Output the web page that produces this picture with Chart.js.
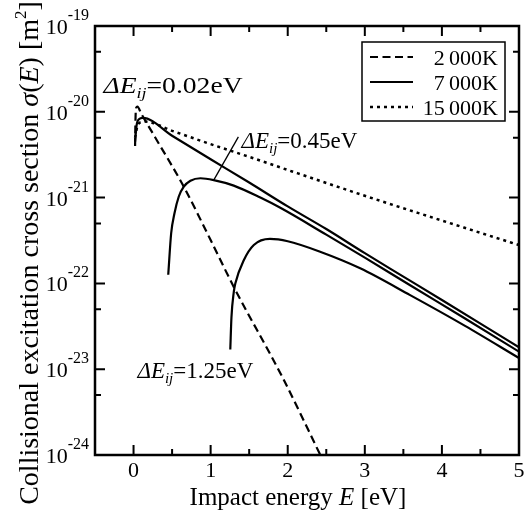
<!DOCTYPE html>
<html><head><meta charset="utf-8">
<script src="https://cdn.jsdelivr.net/npm/chart.js@4/dist/chart.umd.min.js"></script>
<style>html,body{margin:0;padding:0;background:#fff;}</style>
</head><body>
<canvas id="c" width="528" height="513"></canvas>
<script>
// ---- data ----
// ΔE = 0.02 eV, T = 2 000 K (dashed)
const E_a2000 = [0.02, 0.025, 0.035, 0.05, 0.1, 0.3, 0.64, 1.0, 1.3, 1.93, 2.45];
const S_a2000 = [4.0e-21, 8.0e-21, 1.12e-20, 1.15e-20, 9.5e-21, 4.7e-21, 1.4e-21, 3.2e-22, 9.1e-23, 8.1e-24, 8.9e-25];
// ΔE = 0.02 eV, T = 7 000 K (solid)
const E_a7000 = [0.02, 0.04, 0.07, 0.12, 0.5, 1.0, 1.5, 2.0, 2.5, 3.0, 3.5, 4.0, 4.5, 5.0];
const S_a7000 = [4.5e-21, 7.0e-21, 8.2e-21, 8.5e-21, 5.25e-21, 2.8e-21, 1.5e-21, 7.9e-22, 4.3e-22, 2.25e-22, 1.2e-22, 6.4e-23, 3.4e-23, 1.8e-23];
// ΔE = 0.02 eV, T = 15 000 K (dotted)
const E_a15000 = [0.02, 0.05, 0.1, 0.15, 0.5, 1.0, 1.645, 2.0, 3.0, 4.0, 5.0];
const S_a15000 = [5.0e-21, 6.8e-21, 7.6e-21, 7.7e-21, 6.0e-21, 4.2e-21, 2.7e-21, 2.1e-21, 1.05e-21, 5.4e-22, 2.8e-22];
// ΔE = 0.45 eV, T = 7 000 K (solid)
const E_b7000 = [0.45, 0.488, 0.531, 0.587, 0.652, 0.738, 0.868, 1.04, 1.3, 1.645, 1.904, 2.5, 3.0, 3.588, 4.3, 5.0];
const S_b7000 = [1.26e-22, 3.84e-22, 6.56e-22, 1.03e-21, 1.34e-21, 1.57e-21, 1.68e-21, 1.60e-21, 1.38e-21, 1.0e-21, 7.6e-22, 3.7e-22, 2.0e-22, 9.5e-23, 3.9e-23, 1.6e-23];
// ΔE = 1.25 eV, T = 7 000 K (solid)
const E_c7000 = [1.255, 1.27, 1.3, 1.32, 1.43, 1.56, 1.77, 2.0, 2.42, 2.94, 3.588, 4.3, 5.0];
const S_c7000 = [1.7e-23, 4.0e-23, 7.9e-23, 1.0e-22, 1.86e-22, 2.8e-22, 3.3e-22, 3.1e-22, 2.34e-22, 1.5e-22, 7.3e-23, 3.2e-23, 1.35e-23];

const legendLabels = ['2\u2009000K', '7\u2009000K', '15\u2009000K'];
const xTicks = [-0.5, 0, 0.5, 1, 1.5, 2, 2.5, 3, 3.5, 4, 4.5, 5];
const yTicks = [1e-24, 5e-24, 1e-23, 5e-23, 1e-22, 5e-22, 1e-21, 5e-21, 1e-20, 5e-20, 1e-19];
const yExponents = [-24, -23, -22, -21, -20, -19];
// annotation labels: [text value, anchor E, anchor sigma]
const annotVals = ['0.02eV', '0.45eV', '1.25eV'];
const annotAt = [[-0.39, 1.66e-20], [1.40, 3.8e-21], [0.05, 7.9e-24]];
const annotStretch = [1.2, 1, 1];
const leader = [[1.04, 1.6e-21], [1.36, 5.1e-21]];

const SERIF = '"Liberation Serif", "DejaVu Serif", serif';
const pts = (xs, ys) => xs.map((x, i) => ({x: x, y: ys[i]}));

const base = {borderColor: '#000', borderWidth: 2.2, pointRadius: 0, fill: false,
  cubicInterpolationMode: 'monotone', showLine: true};

const datasets = [
  Object.assign({}, base, {label: legendLabels[0], data: pts(E_a2000, S_a2000), borderDash: [8, 4.5]}),
  Object.assign({}, base, {label: legendLabels[1], data: pts(E_a7000, S_a7000)}),
  Object.assign({}, base, {label: legendLabels[2], data: pts(E_a15000, S_a15000), borderDash: [3, 4], borderWidth: 2.5}),
  Object.assign({}, base, {label: '7000K 0.45', data: pts(E_b7000, S_b7000)}),
  Object.assign({}, base, {label: '7000K 1.25', data: pts(E_c7000, S_c7000)})
];

function drawParts(ctx, x, y, parts) {
  let cx = x;
  for (const p of parts) {
    ctx.font = p.f;
    ctx.fillText(p.t, cx, y + (p.dy || 0));
    cx += ctx.measureText(p.t).width;
  }
  return cx - x;
}
function partsWidth(ctx, parts) {
  let w = 0;
  for (const p of parts) { ctx.font = p.f; w += ctx.measureText(p.t).width; }
  return w;
}

const decor = {
  id: 'decor',
  afterDraw(chart) {
    const ctx = chart.ctx, a = chart.chartArea, xs = chart.scales.x, ys = chart.scales.y;
    ctx.save();
    ctx.strokeStyle = '#000'; ctx.fillStyle = '#000';
    // ticks
    ctx.lineWidth = 2;
    ctx.beginPath();
    xTicks.forEach(v => {
      const px = xs.getPixelForValue(v);
      if (px < a.left + 2 || px > a.right - 2) return;
      const L = Number.isInteger(v) ? 10 : 6;
      ctx.moveTo(px, a.bottom); ctx.lineTo(px, a.bottom - L);
      ctx.moveTo(px, a.top); ctx.lineTo(px, a.top + L);
    });
    yTicks.forEach(v => {
      const py = ys.getPixelForValue(v);
      if (py < a.top + 2 || py > a.bottom - 2) return;
      const m = Math.abs(Math.log10(v) - Math.round(Math.log10(v))) < 1e-6;
      const L = m ? 10 : 6;
      ctx.moveTo(a.left, py); ctx.lineTo(a.left + L, py);
      ctx.moveTo(a.right, py); ctx.lineTo(a.right - L, py);
    });
    ctx.stroke();
    // frame
    ctx.lineWidth = 2.5;
    ctx.strokeRect(a.left, a.top, a.right - a.left, a.bottom - a.top);
    // y tick labels 10^n
    ctx.textBaseline = 'alphabetic'; ctx.textAlign = 'left';
    yExponents.forEach(n => {
      const py = ys.getPixelForValue(Math.pow(10, n));
      const parts = [{t: '10', f: '22px ' + SERIF}, {t: '-' + Math.abs(n), f: '16px ' + SERIF, dy: -14}];
      const w = partsWidth(ctx, parts);
      drawParts(ctx, 89 - w, py + 8, parts);
    });
    // x title
    const xt = [{t: 'Impact energy ', f: '25px ' + SERIF}, {t: 'E', f: 'italic 25px ' + SERIF}, {t: ' [eV]', f: '25px ' + SERIF}];
    const xw = partsWidth(ctx, xt);
    drawParts(ctx, 298 - xw / 2, 505, xt);
    // y title
    const F = 28;
    const yt = [{t: 'Collisional excitation cross section ', f: F + 'px ' + SERIF},
      {t: '\u03C3', f: 'italic ' + F + 'px ' + SERIF}, {t: '(', f: F + 'px ' + SERIF},
      {t: 'E', f: 'italic ' + F + 'px ' + SERIF}, {t: ') [m', f: F + 'px ' + SERIF},
      {t: '2', f: '17px ' + SERIF, dy: -12}, {t: ']', f: F + 'px ' + SERIF}];
    const yw = partsWidth(ctx, yt);
    ctx.save();
    ctx.translate(38, 253); ctx.rotate(-Math.PI / 2);
    drawParts(ctx, -yw / 2, 0, yt);
    ctx.restore();
    // annotations
    annotVals.forEach((t, i) => {
      const px = xs.getPixelForValue(annotAt[i][0]);
      const py = ys.getPixelForValue(annotAt[i][1]);
      ctx.save();
      ctx.translate(px, py); ctx.scale(annotStretch[i], 1);
      drawParts(ctx, 0, 0, [{t: '\u0394E', f: 'italic 23px ' + SERIF},
        {t: 'ij', f: 'italic 15px ' + SERIF, dy: 5}, {t: '=' + t, f: '23px ' + SERIF}]);
      ctx.restore();
    });
    ctx.lineWidth = 1.3;
    ctx.beginPath();
    ctx.moveTo(xs.getPixelForValue(leader[0][0]), ys.getPixelForValue(leader[0][1]));
    ctx.lineTo(xs.getPixelForValue(leader[1][0]), ys.getPixelForValue(leader[1][1]));
    ctx.stroke();
    // legend
    ctx.fillStyle = '#fff';
    ctx.fillRect(362, 42, 143, 79);
    ctx.lineWidth = 1.5; ctx.fillStyle = '#000';
    ctx.strokeRect(362, 42, 143, 79);
    const rows = [57, 82, 107];
    [0, 1, 2].forEach(i => {
      const ds = datasets[i];
      ctx.save();
      ctx.lineWidth = ds.borderWidth;
      ctx.setLineDash(ds.borderDash || []);
      ctx.beginPath(); ctx.moveTo(370, rows[i]); ctx.lineTo(413, rows[i]); ctx.stroke();
      ctx.restore();
      ctx.font = '22px ' + SERIF; ctx.textAlign = 'right';
      ctx.fillText(legendLabels[i], 498, rows[i] + 8);
      ctx.textAlign = 'left';
    });
    ctx.restore();
  }
};

new Chart(document.getElementById('c'), {
  type: 'scatter',
  data: {datasets: datasets},
  options: {
    responsive: false, animation: false, devicePixelRatio: 1,
    layout: {padding: {left: 0, right: 9, top: 26, bottom: 0}},
    plugins: {legend: {display: false}, tooltip: {enabled: false}},
    scales: {
      x: {type: 'linear', min: -0.5, max: 5,
        afterBuildTicks: s => { s.ticks = xTicks.map(v => ({value: v})); },
        afterFit: s => { s.height = 58; },
        grid: {display: false, drawTicks: false}, border: {display: false},
        ticks: {color: '#000', font: {family: SERIF, size: 22}, padding: 3, maxRotation: 0, autoSkip: false,
          callback: v => Number.isInteger(v) ? String(v) : ''}},
      y: {type: 'logarithmic', min: 1e-24, max: 1e-19,
        afterBuildTicks: s => { s.ticks = yTicks.map(v => ({value: v})); },
        afterFit: s => { s.width = 95; },
        grid: {display: false, drawTicks: false}, border: {display: false},
        ticks: {display: false}}
    }
  },
  plugins: [decor]
});
</script>
</body></html>
